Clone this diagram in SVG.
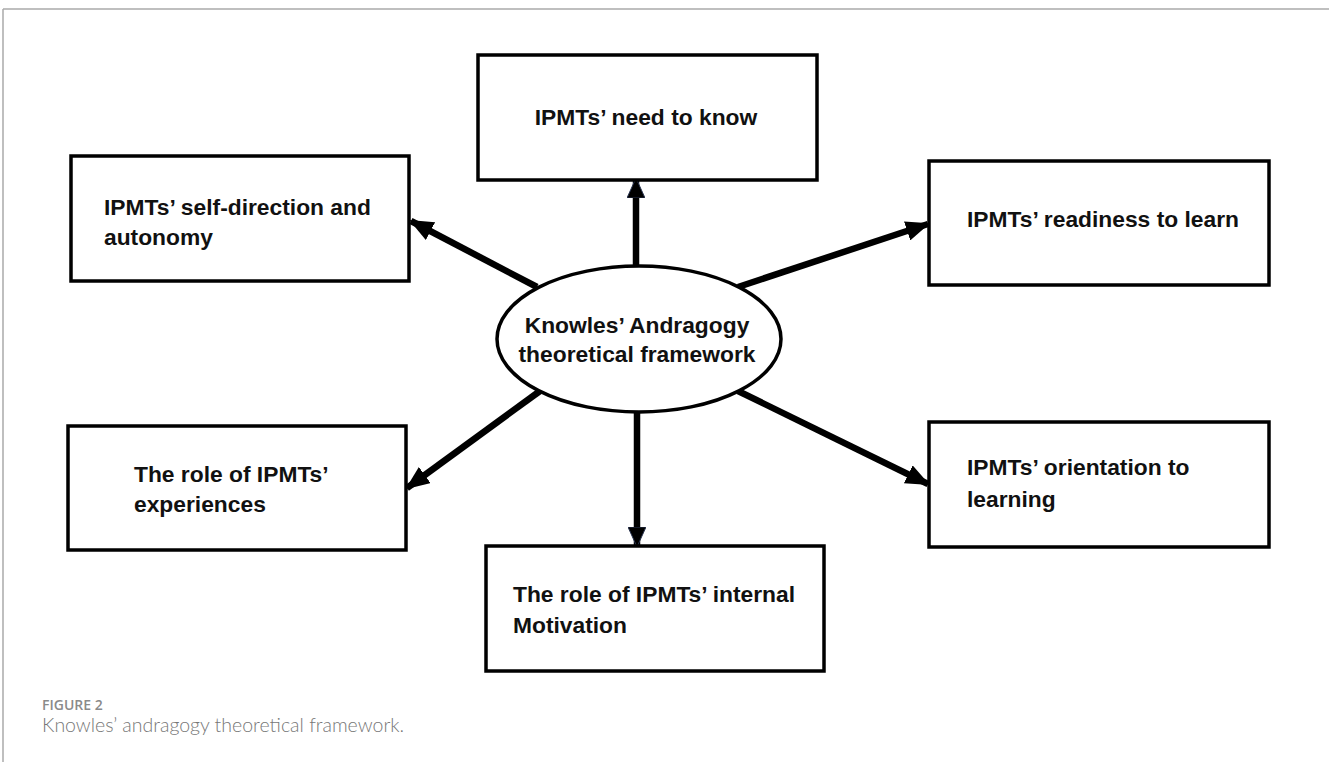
<svg xmlns="http://www.w3.org/2000/svg" width="1329" height="762" viewBox="0 0 1329 762">
<style>
.box{fill:#fff;stroke:#000;stroke-width:3.5}
.lbl{font-family:"Liberation Sans",Arial,sans-serif;font-weight:bold;font-size:22.8px;fill:#111}
.con{stroke:#000;stroke-width:6.5;fill:none}
.cap1{font-family:"Open Sans","Liberation Sans",sans-serif;font-weight:600;font-size:14px;fill:#8a8a8a}
.cap2{font-family:Lato,"Open Sans",sans-serif;font-weight:300;font-size:19.5px;fill:#777}
</style>
<defs>
<marker id="ah" markerUnits="userSpaceOnUse" markerWidth="24" markerHeight="20" viewBox="0 0 24 20" refX="22" refY="10" orient="auto">
<path d="M0,0 L24,10 L0,20 Z" fill="#000"/>
</marker>
<marker id="ahs" markerUnits="userSpaceOnUse" markerWidth="20" markerHeight="18" viewBox="0 0 20 18" refX="18" refY="9" orient="auto">
<path d="M0,0 L20,9 L0,18 Z" fill="#000" stroke="#2a3550" stroke-width="1"/>
</marker>
</defs>
<rect width="1329" height="762" fill="#fff"/>
<g id="frame">
<line x1="3" y1="9" x2="1329" y2="9" stroke="#aaa" stroke-width="1.5"/>
<line x1="3" y1="9" x2="3" y2="762" stroke="#aaa" stroke-width="1.5"/>
</g>
<g id="connectors">
<line class="con" x1="636" y1="267" x2="636" y2="180" stroke-width="8.5" marker-end="url(#ahs)"/>
<line class="con" x1="537" y1="287" x2="411" y2="221" marker-end="url(#ah)"/>
<line class="con" x1="738" y1="287" x2="928" y2="224" marker-end="url(#ah)"/>
<line class="con" x1="738" y1="391" x2="928" y2="484" marker-end="url(#ah)"/>
<line class="con" x1="540" y1="391" x2="407" y2="488" marker-end="url(#ah)"/>
<line class="con" x1="637" y1="412" x2="637" y2="545" stroke-width="8.5" marker-end="url(#ahs)"/>
</g>
<g id="center">
<ellipse cx="639" cy="339" rx="142" ry="73" fill="#fff" stroke="#000" stroke-width="3.5"/>
<text class="lbl" x="637" y="333" text-anchor="middle">Knowles’ Andragogy</text>
<text class="lbl" x="637" y="362" text-anchor="middle">theoretical framework</text>
</g>
<g id="need">
<rect class="box" x="478" y="55" width="339" height="125"/>
<text class="lbl" x="646" y="125" text-anchor="middle">IPMTs’ need to know</text>
</g>
<g id="self">
<rect class="box" x="71" y="156" width="338" height="125"/>
<text class="lbl" x="104" y="215">IPMTs’ self-direction and</text>
<text class="lbl" x="104" y="245">autonomy</text>
</g>
<g id="readiness">
<rect class="box" x="929" y="161" width="340" height="124"/>
<text class="lbl" x="967" y="227">IPMTs’ readiness to learn</text>
</g>
<g id="orientation">
<rect class="box" x="929" y="422" width="340" height="125"/>
<text class="lbl" x="967" y="475">IPMTs’ orientation to</text>
<text class="lbl" x="967" y="507">learning</text>
</g>
<g id="experiences">
<rect class="box" x="68" y="426" width="338" height="124"/>
<text class="lbl" x="134" y="482">The role of IPMTs’</text>
<text class="lbl" x="134" y="512">experiences</text>
</g>
<g id="motivation">
<rect class="box" x="486" y="546" width="338" height="125"/>
<text class="lbl" x="513" y="602">The role of IPMTs’ internal</text>
<text class="lbl" x="513" y="633">Motivation</text>
</g>
<g id="caption">
<text class="cap1" x="42" y="710">FIGURE 2</text>
<text class="cap2" x="42" y="732">Knowles’ andragogy theoretical framework.</text>
</g>
</svg>
